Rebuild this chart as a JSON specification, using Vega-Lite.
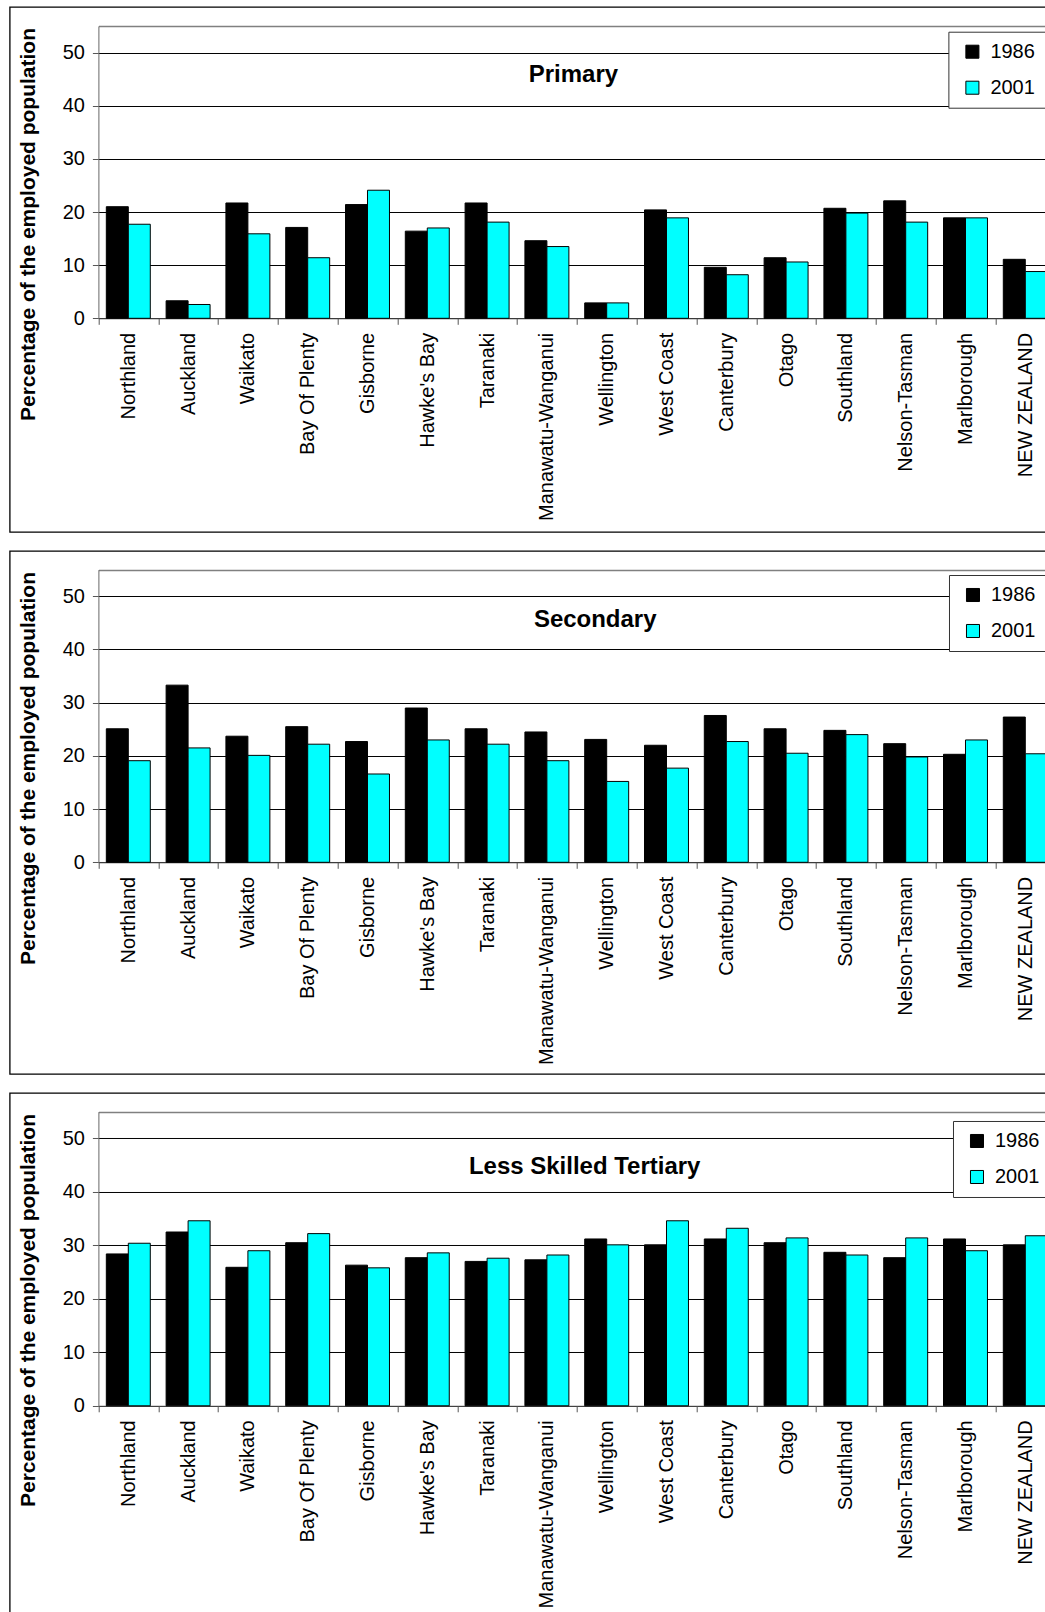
{
  "$schema": "https://vega.github.io/schema/vega-lite/v6.json",
  "padding": {"left": -1.3, "top": 6, "right": 0, "bottom": 0},
  "background": "white",
  "spacing": 19,
  "bounds": "flush",
  "resolve": {"scale": {"color": "independent"}, "legend": {"color": "independent"}},
  "config": {
    "font": "Liberation Sans",
    "view": {"stroke": "black", "strokeWidth": 1.3},
    "axis": {"labelColor": "black", "titleColor": "black"}
  },
  "data": {"values": [
    {"p":"Primary","r":"Northland","yr":"1986","v":21.0},{"p":"Primary","r":"Northland","yr":"2001","v":17.7},
    {"p":"Primary","r":"Auckland","yr":"1986","v":3.3},{"p":"Primary","r":"Auckland","yr":"2001","v":2.6},
    {"p":"Primary","r":"Waikato","yr":"1986","v":21.7},{"p":"Primary","r":"Waikato","yr":"2001","v":15.9},
    {"p":"Primary","r":"Bay Of Plenty","yr":"1986","v":17.1},{"p":"Primary","r":"Bay Of Plenty","yr":"2001","v":11.4},
    {"p":"Primary","r":"Gisborne","yr":"1986","v":21.4},{"p":"Primary","r":"Gisborne","yr":"2001","v":24.1},
    {"p":"Primary","r":"Hawke's Bay","yr":"1986","v":16.4},{"p":"Primary","r":"Hawke's Bay","yr":"2001","v":17.0},
    {"p":"Primary","r":"Taranaki","yr":"1986","v":21.7},{"p":"Primary","r":"Taranaki","yr":"2001","v":18.1},
    {"p":"Primary","r":"Manawatu-Wanganui","yr":"1986","v":14.6},{"p":"Primary","r":"Manawatu-Wanganui","yr":"2001","v":13.5},
    {"p":"Primary","r":"Wellington","yr":"1986","v":2.9},{"p":"Primary","r":"Wellington","yr":"2001","v":2.9},
    {"p":"Primary","r":"West Coast","yr":"1986","v":20.4},{"p":"Primary","r":"West Coast","yr":"2001","v":18.9},
    {"p":"Primary","r":"Canterbury","yr":"1986","v":9.6},{"p":"Primary","r":"Canterbury","yr":"2001","v":8.2},
    {"p":"Primary","r":"Otago","yr":"1986","v":11.4},{"p":"Primary","r":"Otago","yr":"2001","v":10.6},
    {"p":"Primary","r":"Southland","yr":"1986","v":20.7},{"p":"Primary","r":"Southland","yr":"2001","v":19.8},
    {"p":"Primary","r":"Nelson-Tasman","yr":"1986","v":22.1},{"p":"Primary","r":"Nelson-Tasman","yr":"2001","v":18.1},
    {"p":"Primary","r":"Marlborough","yr":"1986","v":18.9},{"p":"Primary","r":"Marlborough","yr":"2001","v":18.9},
    {"p":"Primary","r":"NEW ZEALAND","yr":"1986","v":11.1},{"p":"Primary","r":"NEW ZEALAND","yr":"2001","v":8.8},

    {"p":"Secondary","r":"Northland","yr":"1986","v":25.1},{"p":"Secondary","r":"Northland","yr":"2001","v":19.1},
    {"p":"Secondary","r":"Auckland","yr":"1986","v":33.3},{"p":"Secondary","r":"Auckland","yr":"2001","v":21.5},
    {"p":"Secondary","r":"Waikato","yr":"1986","v":23.7},{"p":"Secondary","r":"Waikato","yr":"2001","v":20.1},
    {"p":"Secondary","r":"Bay Of Plenty","yr":"1986","v":25.5},{"p":"Secondary","r":"Bay Of Plenty","yr":"2001","v":22.2},
    {"p":"Secondary","r":"Gisborne","yr":"1986","v":22.7},{"p":"Secondary","r":"Gisborne","yr":"2001","v":16.6},
    {"p":"Secondary","r":"Hawke's Bay","yr":"1986","v":29.0},{"p":"Secondary","r":"Hawke's Bay","yr":"2001","v":23.0},
    {"p":"Secondary","r":"Taranaki","yr":"1986","v":25.1},{"p":"Secondary","r":"Taranaki","yr":"2001","v":22.2},
    {"p":"Secondary","r":"Manawatu-Wanganui","yr":"1986","v":24.5},{"p":"Secondary","r":"Manawatu-Wanganui","yr":"2001","v":19.1},
    {"p":"Secondary","r":"Wellington","yr":"1986","v":23.1},{"p":"Secondary","r":"Wellington","yr":"2001","v":15.2},
    {"p":"Secondary","r":"West Coast","yr":"1986","v":22.0},{"p":"Secondary","r":"West Coast","yr":"2001","v":17.7},
    {"p":"Secondary","r":"Canterbury","yr":"1986","v":27.6},{"p":"Secondary","r":"Canterbury","yr":"2001","v":22.7},
    {"p":"Secondary","r":"Otago","yr":"1986","v":25.1},{"p":"Secondary","r":"Otago","yr":"2001","v":20.5},
    {"p":"Secondary","r":"Southland","yr":"1986","v":24.8},{"p":"Secondary","r":"Southland","yr":"2001","v":24.0},
    {"p":"Secondary","r":"Nelson-Tasman","yr":"1986","v":22.3},{"p":"Secondary","r":"Nelson-Tasman","yr":"2001","v":19.8},
    {"p":"Secondary","r":"Marlborough","yr":"1986","v":20.3},{"p":"Secondary","r":"Marlborough","yr":"2001","v":23.0},
    {"p":"Secondary","r":"NEW ZEALAND","yr":"1986","v":27.3},{"p":"Secondary","r":"NEW ZEALAND","yr":"2001","v":20.4},

    {"p":"LST","r":"Northland","yr":"1986","v":28.4},{"p":"LST","r":"Northland","yr":"2001","v":30.4},
    {"p":"LST","r":"Auckland","yr":"1986","v":32.5},{"p":"LST","r":"Auckland","yr":"2001","v":34.6},
    {"p":"LST","r":"Waikato","yr":"1986","v":25.9},{"p":"LST","r":"Waikato","yr":"2001","v":29.0},
    {"p":"LST","r":"Bay Of Plenty","yr":"1986","v":30.5},{"p":"LST","r":"Bay Of Plenty","yr":"2001","v":32.2},
    {"p":"LST","r":"Gisborne","yr":"1986","v":26.3},{"p":"LST","r":"Gisborne","yr":"2001","v":25.8},
    {"p":"LST","r":"Hawke's Bay","yr":"1986","v":27.7},{"p":"LST","r":"Hawke's Bay","yr":"2001","v":28.6},
    {"p":"LST","r":"Taranaki","yr":"1986","v":27.0},{"p":"LST","r":"Taranaki","yr":"2001","v":27.6},
    {"p":"LST","r":"Manawatu-Wanganui","yr":"1986","v":27.3},{"p":"LST","r":"Manawatu-Wanganui","yr":"2001","v":28.2},
    {"p":"LST","r":"Wellington","yr":"1986","v":31.2},{"p":"LST","r":"Wellington","yr":"2001","v":30.1},
    {"p":"LST","r":"West Coast","yr":"1986","v":30.1},{"p":"LST","r":"West Coast","yr":"2001","v":34.6},
    {"p":"LST","r":"Canterbury","yr":"1986","v":31.2},{"p":"LST","r":"Canterbury","yr":"2001","v":33.2},
    {"p":"LST","r":"Otago","yr":"1986","v":30.5},{"p":"LST","r":"Otago","yr":"2001","v":31.4},
    {"p":"LST","r":"Southland","yr":"1986","v":28.7},{"p":"LST","r":"Southland","yr":"2001","v":28.2},
    {"p":"LST","r":"Nelson-Tasman","yr":"1986","v":27.7},{"p":"LST","r":"Nelson-Tasman","yr":"2001","v":31.4},
    {"p":"LST","r":"Marlborough","yr":"1986","v":31.2},{"p":"LST","r":"Marlborough","yr":"2001","v":29.0},
    {"p":"LST","r":"NEW ZEALAND","yr":"1986","v":30.1},{"p":"LST","r":"NEW ZEALAND","yr":"2001","v":31.8}
  ]},
  "vconcat": [
    {
      "width": 1050, "height": 525,
      "title": {"text": "Primary", "orient": "top", "anchor": "middle", "frame": "group", "offset": 0, "dx": 38.7, "dy": 99.1, "baseline": "alphabetic", "fontSize": 24, "fontWeight": "bold", "color": "black"},
      "transform": [{"filter": "datum.p === 'Primary'"}],
      "mark": {"type": "bar", "stroke": "black", "strokeWidth": 1},
      "encoding": {
        "x": {"field": "r", "type": "nominal",
          "scale": {"domain": ["Northland","Auckland","Waikato","Bay Of Plenty","Gisborne","Hawke's Bay","Taranaki","Manawatu-Wanganui","Wellington","West Coast","Canterbury","Otago","Southland","Nelson-Tasman","Marlborough","NEW ZEALAND"], "range": [88.7, 1045.5], "paddingInner": 0, "paddingOuter": 0},
          "axis": {"title": null, "labelAngle": -90, "offset": -213.7, "tickBand": "extent", "labelFontSize": 20, "labelPadding": 8, "tickSize": 6, "domainColor": "#555", "tickColor": "#555", "grid": false, "labelLimit": 0}},
        "xOffset": {"field": "yr", "type": "nominal", "scale": {"paddingOuter": 0.36, "paddingInner": 0}},
        "y": {"field": "v", "type": "quantitative",
          "scale": {"domain": [0, 55], "range": [311.3, 19], "nice": false, "zero": true},
          "axis": {"title": "Percentage of the employed population", "values": [0,10,20,30,40,50,55], "offset": -88.7, "grid": true,
            "gridColor": {"condition": {"test": "datum.value === 55", "value": "#808080"}, "value": "#000000"},
            "gridWidth": {"condition": {"test": "datum.value === 55", "value": 1.5}, "value": 1},
            "tickOpacity": {"condition": {"test": "datum.value === 55", "value": 0}, "value": 1},
            "labelExpr": "datum.value === 55 ? '' : datum.label",
            "labelFontSize": 20, "labelPadding": 8, "tickSize": 6, "domainColor": "#666", "tickColor": "#555",
            "titleFontSize": 21, "titleFontWeight": "bold", "titleX": -63.7, "titleY": 217, "titleAngle": -90, "titleAlign": "center", "titleBaseline": "alphabetic"}},
        "color": {"field": "yr", "type": "nominal", "scale": {"domain": ["1986","2001"], "range": ["#000000","#00FFFF"]},
          "legend": {"orient": "none", "legendX": 938.7, "legendY": 24.7, "title": null, "symbolType": "square", "symbolSize": 170, "symbolStrokeColor": "black", "symbolStrokeWidth": 1, "labelFontSize": 20, "labelColor": "black", "strokeColor": "#333", "fillColor": "white", "padding": 10, "rowPadding": 16, "symbolOffset": 4, "labelOffset": 8, "direction": "vertical"}}
      }
    },
    {
      "width": 1050, "height": 523,
      "title": {"text": "Secondary", "orient": "top", "anchor": "middle", "frame": "group", "offset": 0, "dx": 60.5, "dy": 99.7, "baseline": "alphabetic", "fontSize": 24, "fontWeight": "bold", "color": "black"},
      "transform": [{"filter": "datum.p === 'Secondary'"}],
      "mark": {"type": "bar", "stroke": "black", "strokeWidth": 1},
      "encoding": {
        "x": {"field": "r", "type": "nominal",
          "scale": {"domain": ["Northland","Auckland","Waikato","Bay Of Plenty","Gisborne","Hawke's Bay","Taranaki","Manawatu-Wanganui","Wellington","West Coast","Canterbury","Otago","Southland","Nelson-Tasman","Marlborough","NEW ZEALAND"], "range": [88.7, 1045.5], "paddingInner": 0, "paddingOuter": 0},
          "axis": {"title": null, "labelAngle": -90, "offset": -211.7, "tickBand": "extent", "labelFontSize": 20, "labelPadding": 8, "tickSize": 6, "domainColor": "#555", "tickColor": "#555", "grid": false, "labelLimit": 0}},
        "xOffset": {"field": "yr", "type": "nominal", "scale": {"paddingOuter": 0.36, "paddingInner": 0}},
        "y": {"field": "v", "type": "quantitative",
          "scale": {"domain": [0, 55], "range": [311.3, 18.7], "nice": false, "zero": true},
          "axis": {"title": "Percentage of the employed population", "values": [0,10,20,30,40,50,55], "offset": -88.7, "grid": true,
            "gridColor": {"condition": {"test": "datum.value === 55", "value": "#808080"}, "value": "#000000"},
            "gridWidth": {"condition": {"test": "datum.value === 55", "value": 1.5}, "value": 1},
            "tickOpacity": {"condition": {"test": "datum.value === 55", "value": 0}, "value": 1},
            "labelExpr": "datum.value === 55 ? '' : datum.label",
            "labelFontSize": 20, "labelPadding": 8, "tickSize": 6, "domainColor": "#666", "tickColor": "#555",
            "titleFontSize": 21, "titleFontWeight": "bold", "titleX": -63.7, "titleY": 217, "titleAngle": -90, "titleAlign": "center", "titleBaseline": "alphabetic"}},
        "color": {"field": "yr", "type": "nominal", "scale": {"domain": ["1986","2001"], "range": ["#000000","#00FFFF"]},
          "legend": {"orient": "none", "legendX": 939.3, "legendY": 24, "title": null, "symbolType": "square", "symbolSize": 170, "symbolStrokeColor": "black", "symbolStrokeWidth": 1, "labelFontSize": 20, "labelColor": "black", "strokeColor": "#333", "fillColor": "white", "padding": 10, "rowPadding": 16, "symbolOffset": 4, "labelOffset": 8, "direction": "vertical"}}
      }
    },
    {
      "width": 1050, "height": 523,
      "title": {"text": "Less Skilled Tertiary", "orient": "top", "anchor": "middle", "frame": "group", "offset": 0, "dx": 50, "dy": 104.7, "baseline": "alphabetic", "fontSize": 24, "fontWeight": "bold", "color": "black"},
      "transform": [{"filter": "datum.p === 'LST'"}],
      "mark": {"type": "bar", "stroke": "black", "strokeWidth": 1},
      "encoding": {
        "x": {"field": "r", "type": "nominal",
          "scale": {"domain": ["Northland","Auckland","Waikato","Bay Of Plenty","Gisborne","Hawke's Bay","Taranaki","Manawatu-Wanganui","Wellington","West Coast","Canterbury","Otago","Southland","Nelson-Tasman","Marlborough","NEW ZEALAND"], "range": [88.7, 1045.5], "paddingInner": 0, "paddingOuter": 0},
          "axis": {"title": null, "labelAngle": -90, "offset": -210.2, "tickBand": "extent", "labelFontSize": 20, "labelPadding": 8, "tickSize": 6, "domainColor": "#555", "tickColor": "#555", "grid": false, "labelLimit": 0}},
        "xOffset": {"field": "yr", "type": "nominal", "scale": {"paddingOuter": 0.36, "paddingInner": 0}},
        "y": {"field": "v", "type": "quantitative",
          "scale": {"domain": [0, 55], "range": [312.8, 18.7], "nice": false, "zero": true},
          "axis": {"title": "Percentage of the employed population", "values": [0,10,20,30,40,50,55], "offset": -88.7, "grid": true,
            "gridColor": {"condition": {"test": "datum.value === 55", "value": "#808080"}, "value": "#000000"},
            "gridWidth": {"condition": {"test": "datum.value === 55", "value": 1.5}, "value": 1},
            "tickOpacity": {"condition": {"test": "datum.value === 55", "value": 0}, "value": 1},
            "labelExpr": "datum.value === 55 ? '' : datum.label",
            "labelFontSize": 20, "labelPadding": 8, "tickSize": 6, "domainColor": "#666", "tickColor": "#555",
            "titleFontSize": 21, "titleFontWeight": "bold", "titleX": -63.7, "titleY": 217, "titleAngle": -90, "titleAlign": "center", "titleBaseline": "alphabetic"}},
        "color": {"field": "yr", "type": "nominal", "scale": {"domain": ["1986","2001"], "range": ["#000000","#00FFFF"]},
          "legend": {"orient": "none", "legendX": 943.3, "legendY": 28, "title": null, "symbolType": "square", "symbolSize": 170, "symbolStrokeColor": "black", "symbolStrokeWidth": 1, "labelFontSize": 20, "labelColor": "black", "strokeColor": "#333", "fillColor": "white", "padding": 10, "rowPadding": 16, "symbolOffset": 4, "labelOffset": 8, "direction": "vertical"}}
      }
    }
  ]
}
